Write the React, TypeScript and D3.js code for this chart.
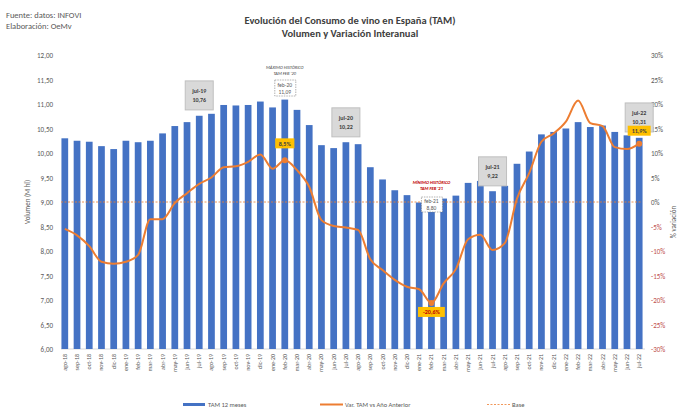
import React from "react";
import * as d3 from "d3";

const months = ["ago-18","sep-18","oct-18","nov-18","dic-18","ene-19","feb-19","mar-19","abr-19","may-19","jun-19","jul-19","ago-19","sep-19","oct-19","nov-19","dic-19","ene-20","feb-20","mar-20","abr-20","may-20","jun-20","jul-20","ago-20","sep-20","oct-20","nov-20","dic-20","ene-21","feb-21","mar-21","abr-21","may-21","jun-21","jul-21","ago-21","sep-21","oct-21","nov-21","dic-21","ene-22","feb-22","mar-22","abr-22","may-22","jun-22","jul-22"];
const volume = [10.30,10.25,10.23,10.14,10.08,10.25,10.22,10.25,10.40,10.55,10.63,10.76,10.80,10.98,10.97,10.98,11.05,10.93,11.09,10.88,10.57,10.16,10.10,10.22,10.18,9.71,9.46,9.24,9.14,8.99,8.80,9.07,9.13,9.39,9.43,9.22,9.33,9.78,10.03,10.38,10.43,10.50,10.63,10.53,10.56,10.43,10.36,10.31];
const variation = [-5.5,-6.8,-9.0,-12.2,-12.6,-12.2,-10.8,-3.5,-3.5,-0.2,1.8,3.7,5.0,7.1,7.3,8.2,9.7,6.8,8.5,6.5,3.1,-3.7,-4.9,-5.2,-5.7,-11.7,-13.9,-15.9,-17.3,-17.8,-20.6,-16.6,-13.7,-7.6,-6.7,-9.8,-8.4,0.7,5.9,12.3,14.0,16.4,20.7,16.1,15.5,11.2,10.8,11.9];
const leftTicks = d3.range(6, 12.001, 0.5);
const rightTicks = d3.range(-30, 30.001, 5);
const grayBoxes = [{ m: "jul-19", v: "10,76", y: 10.90 }, { m: "jul-20", v: "10,22", y: 10.35 }, { m: "jul-21", v: "9,22", y: 9.35 }, { m: "jul-22", v: "10,31", y: 10.45 }];

const fmt = (v: number) => v.toFixed(2).replace(".", ",");

export default function App() {
  const W = 700, H = 420;
  const L = 59, R = 645, T = 55, B = 349;
  const x = d3.scaleBand().domain(months).range([L, R]).paddingInner(0.45).paddingOuter(0.2);
  const yL = d3.scaleLinear().domain([6, 12]).range([B, T]);
  const yR = d3.scaleLinear().domain([-30, 30]).range([B, T]);
  const cx = (m: string) => (x(m) as number) + x.bandwidth() / 2;
  const line = d3.line<number>().x((_, i) => cx(months[i])).y(d => yR(d)).curve(d3.curveMonotoneX);
  const grey = "#595959";
  const font = "Calibri, Carlito, 'Liberation Sans', Arial, sans-serif";
  return (
    <svg width={W} height={H} style={{ position: "absolute", left: 0, top: 0, background: "#fff", fontFamily: font }}>
      <text x={6} y={18} fontSize={8.5} fill={grey}>Fuente: datos: INFOVI</text>
      <text x={6} y={29} fontSize={8.5} fill={grey}>Elaboración: OeMv</text>
      <text x={350} y={24} fontSize={10.5} fontWeight="bold" fill="#404040" textAnchor="middle">Evolución del Consumo de vino en España (TAM)</text>
      <text x={350} y={37} fontSize={10.5} fontWeight="bold" fill="#404040" textAnchor="middle">Volumen y Variación Interanual</text>
      {leftTicks.map(t => (
        <text key={t} x={53} y={yL(t) + 3} fontSize={7} fill={grey} textAnchor="end">{fmt(t)}</text>
      ))}
      {rightTicks.map(t => (
        <text key={t} x={651} y={yR(t) + 3} fontSize={7} fill={t < 0 ? "#c0504d" : grey}>{t}%</text>
      ))}
      <text transform={`translate(30,${(T + B) / 2}) rotate(-90)`} fontSize={7} fill={grey} textAnchor="middle">Volumen (M hl)</text>
      <text transform={`translate(676,${(T + B) / 2 + 20}) rotate(-90)`} fontSize={7} fill={grey} textAnchor="middle">% variación</text>
      <line x1={L + 2} x2={R} y1={B} y2={B} stroke="#d9d9d9" />
      {months.map((m, i) => (
        <rect key={m} x={x(m)} y={yL(volume[i])} width={x.bandwidth()} height={B - yL(volume[i])} fill="#4472c4" />
      ))}
      {months.map(m => (
        <text key={m} transform={`translate(${cx(m) + 2},${B + 5}) rotate(-90)`} fontSize={6} fill={grey} textAnchor="end">{m}</text>
      ))}
      <line x1={L + 2} x2={R - 4} y1={yR(0)} y2={yR(0)} stroke="#ed7d31" strokeDasharray="2,1.5" strokeWidth={0.8} />
      <path d={line(variation) || ""} fill="none" stroke="#ed7d31" strokeWidth={2} />
      {["feb-20", "feb-21", "jul-22"].map(m => (
        <circle key={m} cx={cx(m)} cy={yR(variation[months.indexOf(m)])} r={3} fill="#ed7d31" />
      ))}
      {grayBoxes.map(b => (
        <g key={b.m}>
          <rect x={cx(b.m) - 14} y={yL(b.y) - 28} width={28} height={29} fill="#d9d9d9" stroke="#bfbfbf" />
          <text x={cx(b.m)} y={yL(b.y) - 16} fontSize={6} fontWeight="bold" fill="#404040" textAnchor="middle">{b.m}</text>
          <text x={cx(b.m)} y={yL(b.y) - 7} fontSize={6} fontWeight="bold" fill="#404040" textAnchor="middle">{b.v}</text>
        </g>
      ))}
      <text x={cx("feb-20")} y={69} fontSize={4.5} fontStyle="italic" fill="#404040" textAnchor="middle">MÁXIMO HISTÓRICO</text>
      <text x={cx("feb-20")} y={75} fontSize={4.5} fontStyle="italic" fill="#404040" textAnchor="middle">TAM FEB '20</text>
      <rect x={cx("feb-20") - 10} y={80} width={21} height={16} fill="#fff" stroke="#7f7f7f" strokeDasharray="1.5,1" strokeWidth={0.6} />
      <text x={cx("feb-20")} y={87} fontSize={5.5} fill={grey} textAnchor="middle">feb-20</text>
      <text x={cx("feb-20")} y={94} fontSize={5.5} fill={grey} textAnchor="middle">11,09</text>
      <text x={cx("feb-21")} y={184} fontSize={4.5} fontStyle="italic" fontWeight="bold" fill="#c00000" textAnchor="middle">MÍNIMO HISTÓRICO</text>
      <text x={cx("feb-21")} y={190} fontSize={4.5} fontStyle="italic" fontWeight="bold" fill="#c00000" textAnchor="middle">TAM FEB '21</text>
      <rect x={cx("feb-21") - 10} y={197} width={21} height={15} fill="#fff" stroke="#7f7f7f" strokeDasharray="1.5,1" strokeWidth={0.6} />
      <text x={cx("feb-21")} y={203} fontSize={5.5} fill={grey} textAnchor="middle">feb-21</text>
      <text x={cx("feb-21")} y={210} fontSize={5.5} fill={grey} textAnchor="middle">8,80</text>
      {[{ m: "feb-20", t: "8,5%", dy: -22, c: "#404040" }, { m: "feb-21", t: "-20,6%", dy: 4, c: "#c00000" }, { m: "jul-22", t: "11,9%", dy: -18, c: "#404040" }].map(a => {
        const yy = yR(variation[months.indexOf(a.m)]) + a.dy;
        const w = a.t.length * 3.8 + 4;
        return (
          <g key={a.m}>
            <rect x={cx(a.m) - w / 2} y={yy} width={w} height={10} fill="#ffc000" />
            <text x={cx(a.m)} y={yy + 7.5} fontSize={6} fontWeight="bold" fill={a.c} textAnchor="middle">{a.t}</text>
          </g>
        );
      })}
      <rect x={183} y={403} width={22} height={3} fill="#4472c4" />
      <text x={208} y={407} fontSize={6.5} fill={grey}>TAM 12 meses</text>
      <line x1={320} x2={343} y1={404.5} y2={404.5} stroke="#ed7d31" strokeWidth={2} />
      <text x={345} y={407} fontSize={6.5} fill={grey}>Var. TAM vs Año Anterior</text>
      <line x1={487} x2={510} y1={404.5} y2={404.5} stroke="#ed7d31" strokeDasharray="2,1.5" strokeWidth={0.8} />
      <text x={512} y={407} fontSize={6.5} fill={grey}>Base</text>
    </svg>
  );
}
